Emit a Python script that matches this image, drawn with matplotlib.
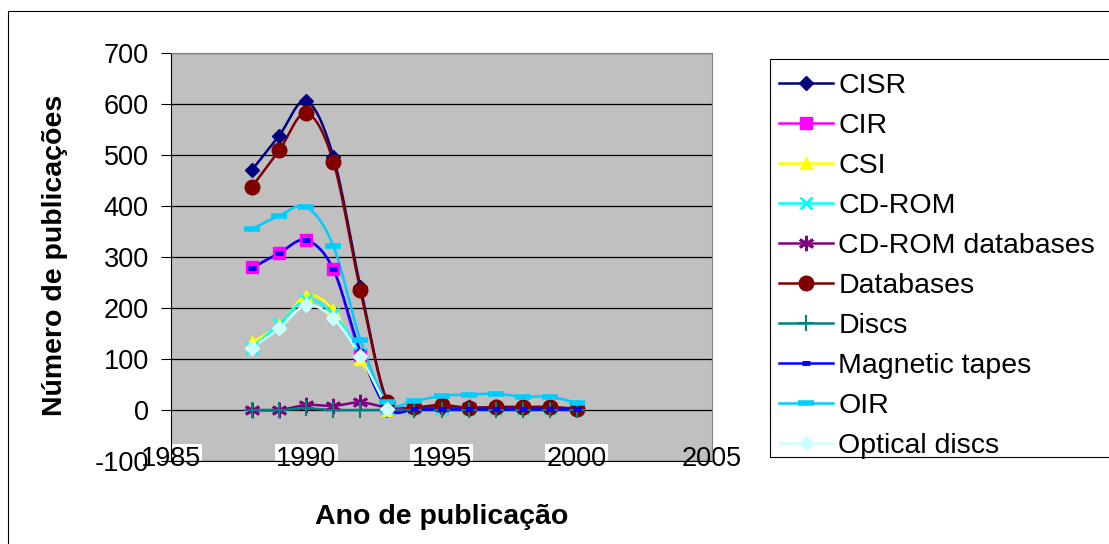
import numpy as np
import matplotlib
matplotlib.use("Agg")
import matplotlib.pyplot as plt
from matplotlib.patches import Rectangle

plt.rcParams["font.family"] = ["Liberation Sans", "DejaVu Sans"]
plt.rcParams["axes.unicode_minus"] = False

NaN = float("nan")
YEARS = [1988, 1989, 1990, 1991, 1992, 1993, 1994, 1995, 1996, 1997, 1998, 1999, 2000]

CISR = [471, 538, 606, 497, 242, 15, 4, 3, 3, 3, 3, 3, 2]
CIR = [280, 307, 333, 276, 108, 0, NaN, NaN, NaN, NaN, NaN, NaN, NaN]
CSI = [133, 166, 224, 196, 100, 0, NaN, NaN, NaN, NaN, NaN, NaN, NaN]
CDROM = [122, 168, 216, 188, 112, 3, 1, 1, 1, 1, 1, 1, 1]
CDROM_DB = [0, 0, 10, 8, 15, 5, 4, 6, 5, 5, 5, 5, 3]
DATABASES = [438, 509, 582, 487, 235, 16, 6, 10, 4, 6, 6, 6, 2]
DISCS = [0, 0, 3, 0, 0, 0, 0, 0, 0, 0, 0, 0, 0]
MAG_TAPES = [278, 308, 333, 276, 115, 3, 1, 1, 1, 1, 1, 1, 1]
OIR = [355, 381, 398, 322, 138, 16, 18, 28, 30, 32, 26, 26, 14]
OPTICAL = [122, 160, 205, 180, 105, 2, NaN, NaN, NaN, NaN, NaN, NaN, NaN]

SERIES = [
    ("CISR", CISR, "#000080", dict(marker="D", ms=7.6)),
    ("CIR", CIR, "#FF00FF", dict(marker="s", ms=9)),
    ("CSI", CSI, "#FFFF00", dict(marker="^", ms=9)),
    ("CD-ROM", CDROM, "#00FFFF", dict(marker="x", ms=8.5, mew=2)),
    ("CD-ROM databases", CDROM_DB, "#800080", dict(marker=(6, 2, 0), ms=11, mew=2)),
    ("Databases", DATABASES, "#800000", dict(marker="o", ms=10.5)),
    ("Discs", DISCS, "#008080", dict(marker="+", ms=11, mew=1.5)),
    ("Magnetic tapes", MAG_TAPES, "#0000FF", dict(marker="_", ms=6, mew=3.5)),
    ("OIR", OIR, "#00CCFF", dict(marker="_", ms=11.5, mew=4)),
    ("Optical discs", OPTICAL, "#CCFFFF", dict(marker="D", ms=7.6)),
]

W, H = 1109, 544
FS = 20.5


def smooth(x, y, n=24):
    # Catmull-Rom style Bezier smoothing (like Excel's "smoothed line")
    x = np.asarray(x, float); y = np.asarray(y, float)
    ok = ~np.isnan(y)
    x, y = x[ok], y[ok]
    px, py = [x[0]], [y[0]]
    t = np.linspace(0, 1, n)[1:]
    for i in range(len(x) - 1):
        i0, i3 = max(i - 1, 0), min(i + 2, len(x) - 1)
        c1x = x[i] + (x[i + 1] - x[i0]) / 6; c1y = y[i] + (y[i + 1] - y[i0]) / 6
        c2x = x[i + 1] - (x[i3] - x[i]) / 6; c2y = y[i + 1] - (y[i3] - y[i]) / 6
        bx = (1 - t) ** 3 * x[i] + 3 * (1 - t) ** 2 * t * c1x + 3 * (1 - t) * t ** 2 * c2x + t ** 3 * x[i + 1]
        by = (1 - t) ** 3 * y[i] + 3 * (1 - t) ** 2 * t * c1y + 3 * (1 - t) * t ** 2 * c2y + t ** 3 * y[i + 1]
        px.extend(bx); py.extend(by)
    return px, py


fig = plt.figure(figsize=(W / 100, H / 100), dpi=100)
ax = fig.add_axes([171 / W, 1 - 461 / H, (712 - 171) / W, (461 - 53) / H])
ax.set_facecolor("#C0C0C0")

handles = []
for name, vals, col, mk in SERIES:
    sx, sy = smooth(YEARS, vals)
    ax.plot(sx, sy, color=col, lw=1.8, zorder=3)
    ax.plot(YEARS, vals, ls="none", color=col, mec=col, zorder=4, **mk)
    h, = ax.plot([], [], color=col, lw=1.8, mec=col, **mk)
    h.set_label(name)
    handles.append(h)

ax.set_xlim(1985, 2005)
ax.set_ylim(-100, 700)
ax.set_yticks(range(-100, 701, 100))
ax.set_xticks([1985, 1990, 1995, 2000, 2005])
ax.yaxis.grid(True, color="black", lw=0.9)
ax.set_axisbelow(True)
for s in ("top", "right"):
    ax.spines[s].set_color("#808080")
for s in ("left", "bottom"):
    ax.spines[s].set_color("black")
ax.tick_params(axis="y", length=7, width=0.8, pad=9, labelsize=19.5)
ax.tick_params(axis="x", length=0, pad=-11, labelsize=19.5)
for lab in ax.get_xticklabels():
    if lab.get_text() != "2005":
        lab.set_bbox(dict(facecolor="white", edgecolor="none", pad=1))
    lab.set_zorder(5)

fig.text(55 / W, 1 - 255 / H, "Número de publicações", rotation=90, ha="center", va="center",
         fontsize=20.5, fontweight="bold")
fig.text(442 / W, 1 - 517 / H, "Ano de publicação", ha="center", va="center",
         fontsize=20.5, fontweight="bold")

# legend box runs off the right edge, as in the original
ax.add_patch(Rectangle((770 / W, 1 - 457 / H), 0.5, (457 - 59) / H, transform=fig.transFigure,
                       facecolor="white", edgecolor="black", lw=0.8, zorder=4.5, clip_on=False))
leg = ax.legend(handles=handles, loc="upper left", bbox_to_anchor=(770 / W, 1 - 64 / H),
                bbox_transform=fig.transFigure, borderaxespad=0, fontsize=FS, frameon=False,
                handlelength=1.9, handletextpad=0.2, borderpad=0.3, labelspacing=0.495)
leg.set_zorder(6)

fig.add_artist(Rectangle((8 / W, -0.1), 1.2, 1 - 11 / H + 0.1, transform=fig.transFigure,
                         fill=False, edgecolor="black", lw=0.8))

fig.savefig("out.png", dpi=100)
